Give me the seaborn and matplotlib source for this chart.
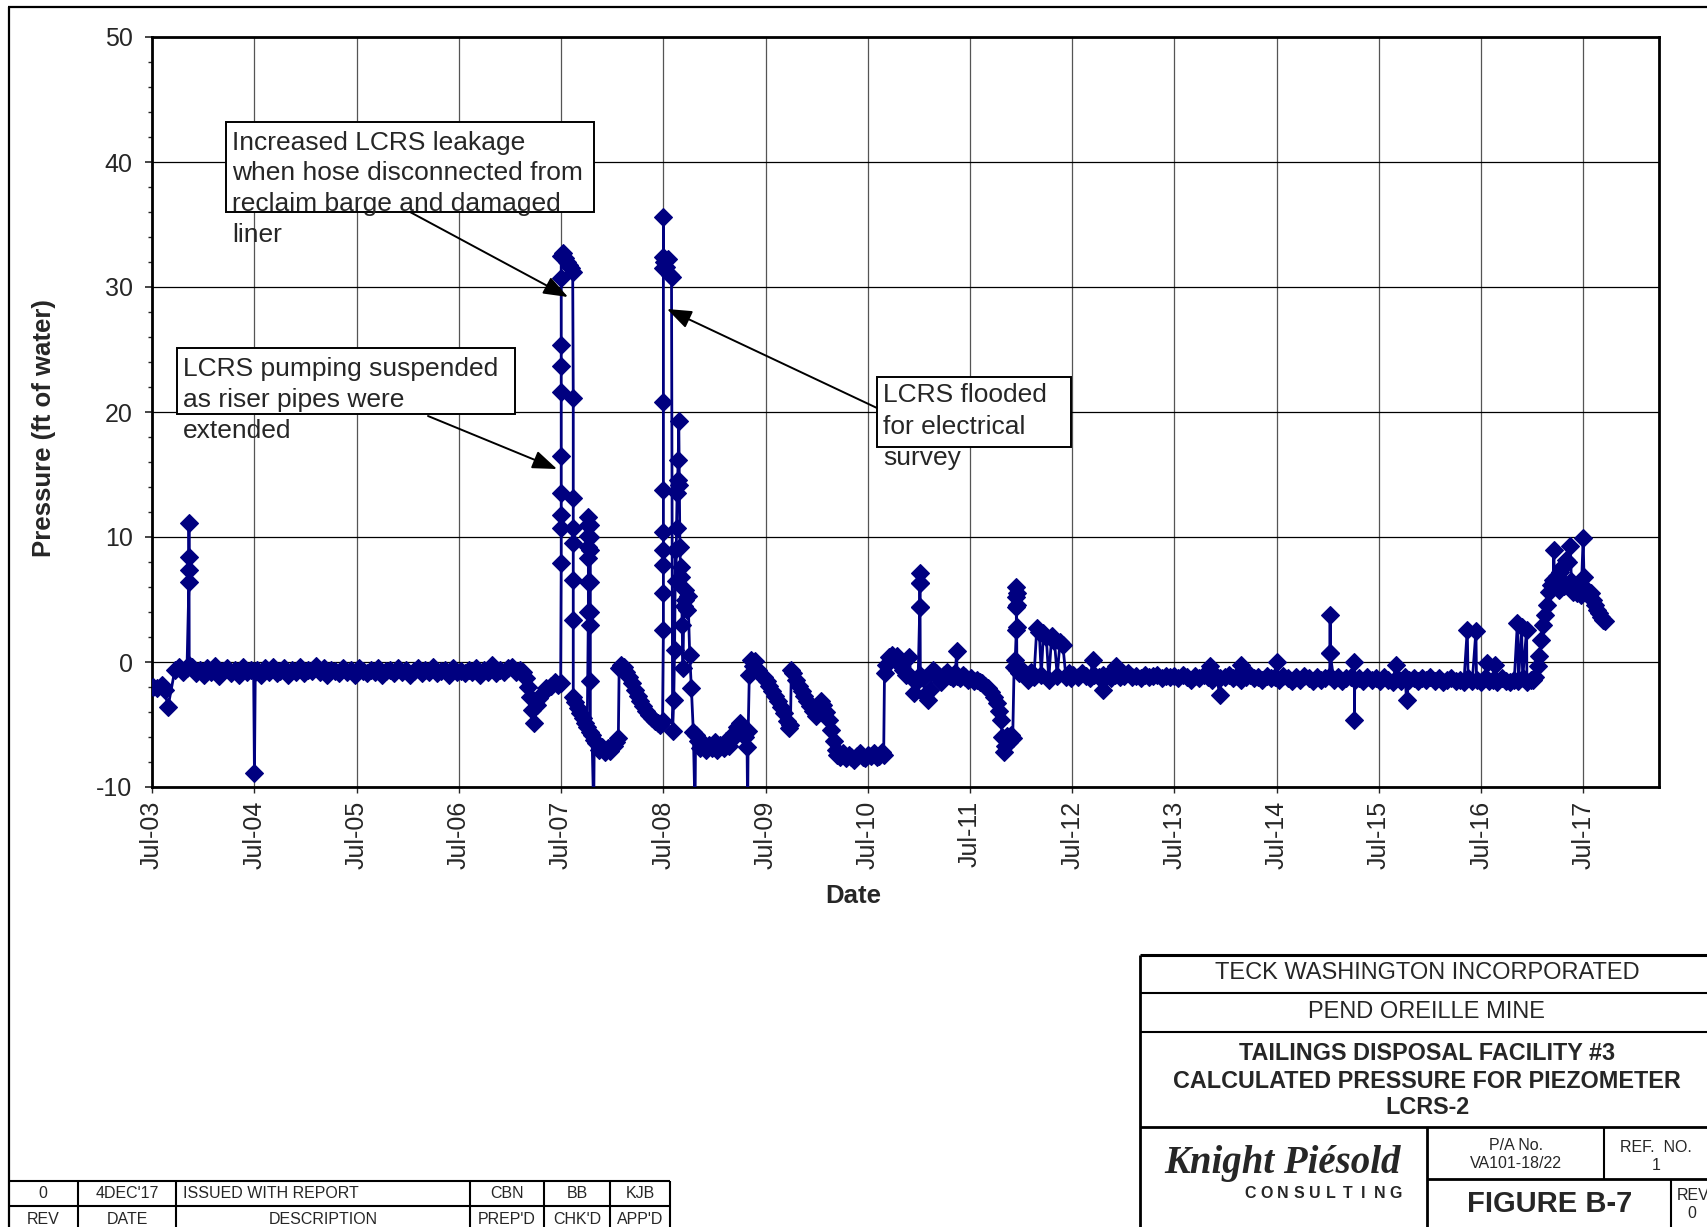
import numpy as np
import pandas as pd
import matplotlib
matplotlib.use("Agg")
import matplotlib.pyplot as plt
import matplotlib.dates as mdates
from matplotlib.ticker import MultipleLocator
from matplotlib.lines import Line2D
from matplotlib.patches import Rectangle, FancyArrowPatch
import seaborn as sns

# ---------------- data ----------------
obs_2003 = [("2003-07-03", -2.0), ("2003-07-20", -2.1), ("2003-08-06", -1.8), ("2003-08-15", -2.2),
            ("2003-08-27", -3.6), ("2003-09-21", -0.6), ("2003-10-05", -0.4), ("2003-10-20", -0.8),
            ("2003-11-03", -0.5), ("2003-11-10", 6.4), ("2003-11-10", 7.4), ("2003-11-10", 8.4),
            ("2003-11-10", 11.1), ("2003-11-11", -0.2)]

band_2003_04 = [-0.4, -0.9, -0.6, -1.0, -0.5, -0.8, -0.3, -1.1, -0.7, -0.5, -0.9, -0.6, -1.0, -0.4, -0.8, -0.6]

dip_2004 = [("2004-06-28", -0.7), ("2004-07-01", -8.9), ("2004-07-04", -0.8)]

band_2004_07 = [-0.6, -1.0, -0.5, -0.8, -0.4, -0.9, -0.7, -0.5, -1.0, -0.6,
                -0.8, -0.4, -0.9, -0.6, -0.7, -0.3, -0.8, -0.5, -1.0, -0.6,
                -0.7, -0.9, -0.5, -0.8, -0.6, -1.0, -0.5, -0.7, -0.9, -0.6,
                -0.8, -0.5, -1.0, -0.7, -0.6, -0.9, -0.5, -0.8, -0.6, -1.0,
                -0.7, -0.5, -0.9, -0.6, -0.8, -0.4, -0.9, -0.7, -0.6, -1.0,
                -0.5, -0.8, -0.7, -0.9, -0.6, -0.8, -0.5, -1.0, -0.6, -0.8,
                -0.2, -0.9, -0.6, -0.8, -0.5, -0.4, -0.8, -0.6]

obs_2007 = [("2007-02-15", -0.8), ("2007-02-25", -1.3), ("2007-03-05", -2.0), ("2007-03-12", -2.8),
            ("2007-03-20", -3.8), ("2007-03-28", -4.9), ("2007-04-05", -3.4), ("2007-04-15", -2.9),
            ("2007-04-28", -2.5), ("2007-05-10", -2.1), ("2007-05-25", -1.9), ("2007-06-08", -1.6),
            ("2007-06-20", -1.8), ("2007-06-30", -1.7),
            ("2007-07-02", 7.9), ("2007-07-02", 10.7), ("2007-07-02", 11.8), ("2007-07-02", 13.5),
            ("2007-07-02", 16.5), ("2007-07-02", 21.6), ("2007-07-02", 23.7), ("2007-07-02", 25.4),
            ("2007-07-02", 30.7), ("2007-07-02", 32.5),
            ("2007-07-09", 32.7), ("2007-07-16", 32.3), ("2007-07-23", 32.0), ("2007-07-30", 31.8),
            ("2007-08-06", 31.5), ("2007-08-12", 31.2),
            ("2007-08-14", 21.1), ("2007-08-14", 13.1), ("2007-08-14", 10.7), ("2007-08-14", 9.5),
            ("2007-08-14", 6.6), ("2007-08-14", 3.4), ("2007-08-14", -2.8),
            ("2007-08-22", -3.2), ("2007-08-30", -3.7), ("2007-09-08", -4.1), ("2007-09-17", -4.5),
            ("2007-09-26", -4.9), ("2007-10-03", -5.2),
            ("2007-10-07", 4.0), ("2007-10-07", 6.4), ("2007-10-07", 8.3), ("2007-10-07", 9.2),
            ("2007-10-07", 10.1), ("2007-10-07", 11.0), ("2007-10-07", 11.6),
            ("2007-10-14", 11.0), ("2007-10-14", 10.0), ("2007-10-14", 9.0), ("2007-10-14", 6.4),
            ("2007-10-14", 4.0), ("2007-10-14", 3.0), ("2007-10-14", -1.5), ("2007-10-14", -5.6),
            ("2007-10-20", -5.8), ("2007-10-26", -12.0), ("2007-10-28", -6.2), ("2007-11-05", -6.5),
            ("2007-11-15", -7.0), ("2007-11-25", -6.8), ("2007-12-05", -7.2), ("2007-12-15", -6.9),
            ("2007-12-25", -7.1)]

obs_2008 = [("2008-01-05", -6.7), ("2008-01-15", -6.4), ("2008-01-22", -6.1), ("2008-01-25", -0.5),
            ("2008-02-01", -0.2), ("2008-02-10", -0.4), ("2008-02-20", -0.8), ("2008-03-01", -1.2),
            ("2008-03-10", -1.7), ("2008-03-20", -2.2), ("2008-04-01", -2.7), ("2008-04-10", -3.1),
            ("2008-04-20", -3.5), ("2008-05-01", -3.9), ("2008-05-10", -4.2), ("2008-05-20", -4.5),
            ("2008-06-01", -4.7), ("2008-06-10", -4.9), ("2008-06-20", -5.0), ("2008-06-28", -4.7),
            ("2008-07-01", 2.6), ("2008-07-01", 5.5), ("2008-07-01", 7.8), ("2008-07-01", 9.0),
            ("2008-07-01", 10.4), ("2008-07-01", 13.8), ("2008-07-01", 20.8), ("2008-07-01", 31.5),
            ("2008-07-01", 32.4), ("2008-07-01", 35.6), ("2008-07-02", 32.0),
            ("2008-07-09", 31.6), ("2008-07-16", 32.2), ("2008-07-23", 31.0), ("2008-07-30", 30.8),
            ("2008-08-03", -5.5), ("2008-08-07", -3.0), ("2008-08-10", 1.0), ("2008-08-13", 9.0),
            ("2008-08-15", 6.5), ("2008-08-17", 10.7), ("2008-08-19", 13.5), ("2008-08-21", 14.6),
            ("2008-08-23", 16.2), ("2008-08-25", 19.3), ("2008-08-27", 14.2), ("2008-08-29", 9.2),
            ("2008-09-01", 6.8), ("2008-09-03", 7.6), ("2008-09-06", 3.0), ("2008-09-09", -0.5),
            ("2008-09-12", 4.5), ("2008-09-15", 5.8), ("2008-09-18", 5.0), ("2008-09-22", 4.2),
            ("2008-09-27", 5.3), ("2008-10-03", 0.6), ("2008-10-09", -2.1), ("2008-10-16", -5.6),
            ("2008-10-22", -12.0), ("2008-10-24", -5.8), ("2008-11-01", -6.3), ("2008-11-10", -6.9),
            ("2008-11-20", -6.5), ("2008-12-01", -7.0), ("2008-12-10", -6.6), ("2008-12-20", -6.9)]

obs_2009 = [("2009-01-01", -6.4), ("2009-01-10", -7.0), ("2009-01-20", -6.6), ("2009-02-01", -6.9),
            ("2009-02-10", -6.3), ("2009-02-20", -6.7), ("2009-03-01", -6.2), ("2009-03-10", -5.7),
            ("2009-03-20", -5.2), ("2009-03-30", -4.9), ("2009-04-10", -5.3), ("2009-04-20", -6.0),
            ("2009-04-26", -6.8), ("2009-04-28", -12.0), ("2009-04-30", -5.5), ("2009-05-04", -1.0),
            ("2009-05-10", 0.2), ("2009-05-18", -0.3), ("2009-05-26", 0.1), ("2009-06-05", -0.6),
            ("2009-06-15", -1.0), ("2009-06-25", -1.2), ("2009-07-05", -1.5), ("2009-07-15", -1.9),
            ("2009-07-25", -2.3), ("2009-08-05", -2.7), ("2009-08-15", -3.1), ("2009-08-25", -3.6),
            ("2009-09-05", -4.1), ("2009-09-15", -4.7), ("2009-09-24", -5.3), ("2009-09-28", -5.0),
            ("2009-10-01", -0.6), ("2009-10-08", -0.9), ("2009-10-18", -1.4), ("2009-10-28", -1.9),
            ("2009-11-07", -2.3), ("2009-11-17", -2.7), ("2009-11-27", -3.1), ("2009-12-07", -3.5),
            ("2009-12-17", -3.9), ("2009-12-27", -4.3)]

obs_2010 = [("2010-01-06", -3.8), ("2010-01-16", -3.1), ("2010-01-24", -3.4), ("2010-02-03", -4.0),
            ("2010-02-12", -4.6), ("2010-02-20", -5.4), ("2010-03-01", -6.3), ("2010-03-08", -7.0),
            ("2010-03-15", -7.4), ("2010-03-25", -7.6), ("2010-04-04", -7.3), ("2010-04-14", -7.7),
            ("2010-04-24", -7.4), ("2010-05-04", -7.6), ("2010-05-14", -7.8), ("2010-05-24", -7.5),
            ("2010-06-03", -7.3), ("2010-06-13", -7.6), ("2010-06-23", -7.7), ("2010-07-03", -7.4),
            ("2010-07-13", -7.5), ("2010-07-23", -7.3), ("2010-08-02", -7.6), ("2010-08-12", -7.5),
            ("2010-08-22", -7.2), ("2010-08-27", -7.4), ("2010-08-30", -0.9), ("2010-09-06", -0.2),
            ("2010-09-15", 0.4), ("2010-09-25", 0.6), ("2010-10-05", 0.2), ("2010-10-15", 0.5),
            ("2010-10-25", -0.1), ("2010-11-05", -0.6), ("2010-11-15", -1.0), ("2010-11-25", 0.4),
            ("2010-12-04", -1.2), ("2010-12-12", -2.5), ("2010-12-20", -1.6), ("2010-12-28", -1.4)]

obs_2011 = [("2011-01-03", 4.4), ("2011-01-03", 6.3), ("2011-01-03", 7.1), ("2011-01-04", 6.3),
            ("2011-01-04", 4.4), ("2011-01-05", -1.0), ("2011-01-14", -1.3), ("2011-01-23", -2.6),
            ("2011-02-01", -3.0), ("2011-02-10", -2.2), ("2011-02-20", -0.6), ("2011-03-01", -0.9),
            ("2011-03-10", -1.2), ("2011-03-20", -1.6), ("2011-04-01", -1.0), ("2011-04-10", -0.8),
            ("2011-04-20", -1.1), ("2011-05-01", -1.3), ("2011-05-10", -0.9), ("2011-05-15", 0.9),
            ("2011-05-16", -1.1), ("2011-05-25", -1.3), ("2011-06-05", -1.0), ("2011-06-15", -1.2),
            ("2011-06-25", -1.4), ("2011-07-05", -1.3), ("2011-07-15", -1.5), ("2011-07-25", -1.4),
            ("2011-08-05", -1.6), ("2011-08-15", -1.7), ("2011-08-25", -1.9), ("2011-09-05", -2.1),
            ("2011-09-15", -2.4), ("2011-09-25", -2.8), ("2011-10-05", -3.3), ("2011-10-12", -3.9),
            ("2011-10-20", -4.6), ("2011-10-25", -6.0), ("2011-10-30", -7.2), ("2011-11-04", -6.7),
            ("2011-11-10", -5.9), ("2011-11-16", -6.4), ("2011-11-24", -5.8), ("2011-12-01", -6.1),
            ("2011-12-06", -0.4), ("2011-12-10", 0.2), ("2011-12-14", 2.6), ("2011-12-14", 4.4),
            ("2011-12-14", 5.2), ("2011-12-14", 6.0), ("2011-12-15", 5.5), ("2011-12-15", 4.6),
            ("2011-12-15", 2.8), ("2011-12-16", -0.6), ("2011-12-24", -0.9)]

obs_2012 = [("2012-01-05", -0.6), ("2012-01-15", -1.0), ("2012-01-25", -1.4), ("2012-02-05", -0.8),
            ("2012-02-15", -1.2), ("2012-02-25", 2.7), ("2012-03-05", 2.4), ("2012-03-12", -1.0),
            ("2012-03-20", 2.3), ("2012-03-30", 2.0), ("2012-04-08", -1.4), ("2012-04-18", 2.1),
            ("2012-04-28", 1.7), ("2012-05-08", -1.1), ("2012-05-18", 1.6), ("2012-05-28", 1.4),
            ("2012-06-08", -1.2), ("2012-06-18", -0.9), ("2012-06-28", -1.3)]

band_2012_16 = [-1.0, -1.2, -0.9, -1.1, -1.3, -1.0, -1.2, -1.0, -1.1, -1.3, -1.0, -1.2,
                -1.1, -0.9, -1.2, -1.1, -1.3, -1.0, -1.2, -1.1, -1.0, -1.3, -1.1, -1.2,
                -1.1, -1.3, -1.0, -1.2, -1.4, -1.1, -1.3, -1.0, -1.2, -1.4, -1.1, -1.3,
                -1.2, -1.0, -1.3, -1.1, -1.4, -1.2, -1.0, -1.3, -1.2, -1.4, -1.1, -1.3,
                -1.2, -1.4, -1.1, -1.3, -1.5, -1.2, -1.4, -1.1, -1.3, -1.5, -1.2, -1.4,
                -1.3, -1.1, -1.4, -1.2, -1.5, -1.3, -1.2, -1.4, -1.3, -1.5, -1.2, -1.4,
                -1.3, -1.5, -1.2, -1.4, -1.6, -1.3, -1.5, -1.2, -1.4, -1.3, -1.5, -1.3,
                -1.4, -1.2, -1.5, -1.3, -1.6, -1.4, -1.3, -1.5, -1.4, -1.6, -1.3, -1.5,
                -1.4, -1.6, -1.3, -1.5, -1.4, -1.6, -1.3, -1.5, -1.6, -1.4, -1.5, -1.3,
                -1.6, -1.4]

events_2012_16 = [("2012-09-12", 0.2), ("2012-10-20", -2.2), ("2012-12-05", -0.3), ("2013-11-05", -0.3),
                  ("2013-12-10", -2.6), ("2014-02-25", -0.2), ("2014-07-01", 0.0),
                  ("2015-01-08", 0.7), ("2015-01-08", 3.8), ("2015-01-08", 0.7),
                  ("2015-04-05", 0.0), ("2015-04-05", -4.6), ("2015-09-01", -0.2), ("2015-10-08", -3.0),
                  ("2016-05-12", 2.6), ("2016-06-12", 2.5), ("2016-07-20", -0.1), ("2016-08-20", -0.2),
                  ("2016-11-07", 3.1), ("2016-11-22", 2.8), ("2016-12-10", 2.6)]

rise_2017 = [("2017-01-02", -1.4), ("2017-01-10", -1.2), ("2017-01-18", -0.3), ("2017-01-25", 0.5),
             ("2017-02-01", 1.8), ("2017-02-08", 3.0), ("2017-02-15", 3.8), ("2017-02-22", 4.6),
             ("2017-03-01", 5.6), ("2017-03-08", 6.2), ("2017-03-15", 6.6), ("2017-03-17", 9.0),
             ("2017-03-20", 6.4), ("2017-03-27", 6.9), ("2017-04-03", 5.8), ("2017-04-10", 7.2),
             ("2017-04-17", 7.6), ("2017-04-24", 6.1), ("2017-05-01", 8.2), ("2017-05-08", 8.0),
             ("2017-05-15", 9.3), ("2017-05-19", 6.5), ("2017-05-26", 5.6), ("2017-06-02", 6.0),
             ("2017-06-09", 5.5), ("2017-06-16", 5.9), ("2017-06-23", 5.4), ("2017-06-30", 9.9),
             ("2017-07-03", 6.8), ("2017-07-08", 5.6), ("2017-07-15", 5.8), ("2017-07-22", 5.3),
             ("2017-07-29", 5.5), ("2017-08-05", 5.0), ("2017-08-12", 4.6), ("2017-08-19", 4.2),
             ("2017-08-26", 3.9), ("2017-09-02", 3.6), ("2017-09-09", 3.4), ("2017-09-16", 3.3)]

y_ticks = [-10, 0, 10, 20, 30, 40, 50]


def listed(obs):
    return pd.DataFrame({"date": pd.to_datetime([d for d, _ in obs]),
                         "pressure": [v for _, v in obs]})


def regular(start, step_days, values):
    d = pd.Timestamp(start) + pd.to_timedelta(np.arange(len(values)) * step_days, unit="D")
    return pd.DataFrame({"date": d, "pressure": values})


df = pd.concat([listed(obs_2003), regular("2003-11-20", 14, band_2003_04), listed(dip_2004),
                regular("2004-07-10", 14, band_2004_07), listed(obs_2007), listed(obs_2008),
                listed(obs_2009), listed(obs_2010), listed(obs_2011), listed(obs_2012),
                regular("2012-07-05", 15, band_2012_16), listed(events_2012_16),
                listed(rise_2017)], ignore_index=True)
df = df.sort_values("date", kind="mergesort").reset_index(drop=True)

# ---------------- figure ----------------
sns.set_style("white")
plt.rcParams['font.family'] = ['Liberation Sans', 'DejaVu Sans']
plt.rcParams['axes.unicode_minus'] = False

W, H = 1707, 1227
fig = plt.figure(figsize=(W / 100, H / 100), dpi=100)
fig.patch.set_facecolor("white")


def fx(x):
    return x / W


def fy(y):
    return 1 - y / H


ax = fig.add_axes([fx(152), fy(787), (1659 - 152) / W, (787 - 37) / H])
NAVY = "#000080"
sns.lineplot(data=df, x="date", y="pressure", ax=ax, sort=False, estimator=None,
             color=NAVY, linewidth=2.0, marker="D", markersize=9.0,
             markeredgewidth=0.8, markeredgecolor=NAVY, legend=False, zorder=3)

ax.set_xlim(pd.Timestamp("2003-07-01"), pd.Timestamp("2018-03-28"))
ax.set_ylim(-10, 50)
ax.xaxis.set_major_locator(mdates.MonthLocator(bymonth=7, bymonthday=1))
ax.xaxis.set_major_formatter(mdates.DateFormatter("%b-%y"))
ax.set_yticks(y_ticks)
ax.yaxis.set_minor_locator(MultipleLocator(2))
ax.grid(axis="y", which="major", color="black", linewidth=0.9, zorder=0)
ax.grid(axis="x", which="major", color="#555555", linewidth=0.9, zorder=0)
ax.set_axisbelow(True)
ax.tick_params(axis="y", which="major", direction="out", length=5, width=1.2,
               labelsize=18, pad=9, left=True)
ax.tick_params(axis="y", which="minor", direction="out", length=3, width=1.0, left=True)
ax.tick_params(axis="x", which="major", direction="out", length=4, width=1.0,
               labelsize=18, pad=6, labelrotation=90, bottom=True)
for s in ax.spines.values():
    s.set_linewidth(2.0)
    s.set_color("black")
ax.set_xlabel("")
ax.set_ylabel("")

fig.text(fx(44), fy(428), "Pressure (ft of water)", rotation=90, ha="center", va="center",
         fontsize=18.5, fontweight="bold")
fig.text(fx(853), fy(896), "Date", ha="center", va="center", fontsize=18.5, fontweight="bold")


def hline(y, x0, x1, lw=1.5):
    fig.add_artist(Line2D([fx(x0), fx(x1)], [fy(y), fy(y)], color="black", lw=lw,
                          transform=fig.transFigure, solid_capstyle="butt"))


def vline(x, y0, y1, lw=1.5):
    fig.add_artist(Line2D([fx(x), fx(x)], [fy(y0), fy(y1)], color="black", lw=lw,
                          transform=fig.transFigure, solid_capstyle="butt"))


def txt(x, y, s, size, ha="center", **kw):
    fig.text(fx(x), fy(y), s, ha=ha, va="center", fontsize=size, **kw)


def box(x0, y0, x1, y1):
    fig.add_artist(Rectangle((fx(x0), fy(y1)), fx(x1) - fx(x0), fy(y0) - fy(y1),
                             transform=fig.transFigure, facecolor="white",
                             edgecolor="black", linewidth=1.4, zorder=4))


def arrow(xa, ya, xb, yb):
    fig.add_artist(FancyArrowPatch((fx(xa), fy(ya)), (fx(xb), fy(yb)),
                                   transform=fig.transFigure,
                                   arrowstyle="-|>,head_length=0.75,head_width=0.28",
                                   mutation_scale=20, color="black", linewidth=1.4,
                                   shrinkA=0, shrinkB=0, zorder=6))


# annotations
box(226, 122, 594, 212)
for yy, line in zip([143, 173, 204, 235], ["Increased LCRS leakage", "when hose disconnected from",
                                           "reclaim barge and damaged", "liner"]):
    fig.text(fx(232), fy(yy), line, ha="left", va="center", fontsize=19, zorder=5)
arrow(410, 212, 568, 297)

box(177, 348, 515, 414)
for yy, line in zip([369, 400, 431], ["LCRS pumping suspended", "as riser pipes were", "extended"]):
    fig.text(fx(183), fy(yy), line, ha="left", va="center", fontsize=19, zorder=5)
arrow(428, 416, 557, 469)

box(877, 377, 1071, 447)
for yy, line in zip([395, 427, 458], ["LCRS flooded", "for electrical", "survey"]):
    fig.text(fx(883), fy(yy), line, ha="left", va="center", fontsize=19, zorder=5)
arrow(877, 408, 667, 309)

# outer frame
hline(6.5, 8, W + 5, lw=1.6)
vline(9, 6.5, H + 5, lw=1.6)

# revision table
hline(1181, 9, 670)
hline(1206, 9, 670)
for xv in [78, 176, 470, 544, 610, 670]:
    vline(xv, 1181, H + 5)
for xv, s in [(43, "0"), (127, "4DEC'17"), (507, "CBN"), (577, "BB"), (640, "KJB")]:
    txt(xv, 1194, s, 11.5)
txt(183, 1194, "ISSUED WITH REPORT", 11.5, ha="left")
for xv, s in [(43, "REV"), (127, "DATE"), (323, "DESCRIPTION"), (507, "PREP'D"), (577, "CHK'D"),
              (640, "APP'D")]:
    txt(xv, 1219, s, 11.5)

# title block
vline(1140, 955, H + 5, lw=2.0)
hline(955, 1140, W + 5, lw=2.2)
hline(993, 1140, W + 5)
hline(1032, 1140, W + 5)
hline(1127, 1140, W + 5, lw=2.0)
vline(1427, 1127, H + 5, lw=2.0)
hline(1179, 1427, W + 5, lw=2.0)
vline(1604, 1127, 1179)
vline(1671, 1179, H + 5)

txt(1427, 973, "TECK WASHINGTON INCORPORATED", 17)
txt(1427, 1012, "PEND OREILLE MINE", 17)
txt(1427, 1054, "TAILINGS DISPOSAL FACILITY #3", 16.8, fontweight="bold")
txt(1427, 1081, "CALCULATED PRESSURE FOR PIEZOMETER", 16.8, fontweight="bold")
txt(1427, 1107, "LCRS-2", 16.8, fontweight="bold")
txt(1283, 1163, "Knight Piésold", 28, family=["Liberation Serif", "DejaVu Serif"],
    fontweight="bold", fontstyle="italic")
for i, ch in enumerate("CONSULTING"):
    txt(1250 + i * 16.2, 1193, ch, 11.5, fontweight="bold")
txt(1516, 1146, "P/A No.", 11.5)
txt(1516, 1164, "VA101-18/22", 11.5)
txt(1656, 1148, "REF.  NO.", 11.5)
txt(1656, 1166, "1", 11.5)
txt(1550, 1204, "FIGURE B-7", 21, fontweight="bold")
txt(1693, 1196, "REV", 11.5)
txt(1692, 1214, "0", 11.5)

fig.savefig("out.png", dpi=100, facecolor="white")
